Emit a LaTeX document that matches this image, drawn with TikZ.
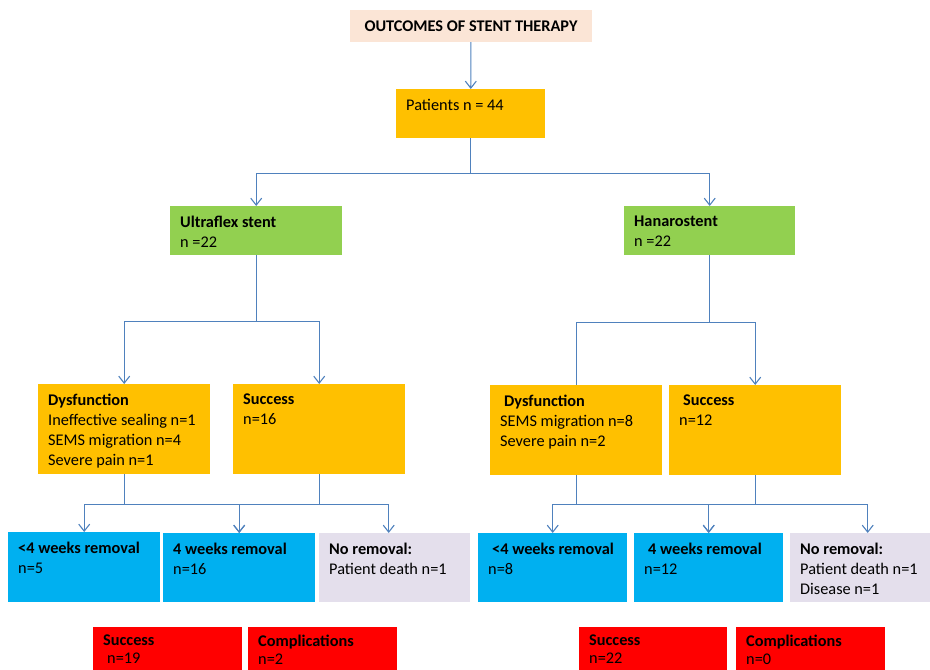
\documentclass[tikz,border=0pt]{standalone}
\usepackage{fontspec}
\setmainfont{Carlito}
\usetikzlibrary{arrows.meta}
\usepackage{xcolor}
\definecolor{peach}{HTML}{FBE5D6}
\definecolor{amber}{HTML}{FFC000}
\definecolor{leaf}{HTML}{92D050}
\definecolor{sky}{HTML}{00B0F0}
\definecolor{lilac}{HTML}{E4DFEC}
\definecolor{alarm}{HTML}{FF0000}
\definecolor{linkblue}{HTML}{4F81BD}
\newcommand{\bodyfont}{\fontsize{16.3}{20}\selectfont}
\newcommand{\boxtext}[3]{\parbox[t][#2][t]{#1}{\raggedright #3}}
\tikzstyle{heading} = [rectangle, 
minimum width=242pt, 
minimum height=32pt, 
inner sep=0pt, 
text centered, 
fill=peach, 
font=\bodyfont\bfseries]
\tikzstyle{stage} = [rectangle, 
anchor=north west, 
inner xsep=10pt, 
inner ysep=10pt, 
font=\bodyfont]
\tikzstyle{count} = [stage, fill=amber]
\tikzstyle{stent} = [stage, fill=leaf]
\tikzstyle{removal} = [stage, fill=sky]
\tikzstyle{noremoval} = [stage, fill=lilac]
\tikzstyle{result} = [stage, fill=alarm, inner ysep=8pt, font=\fontsize{16.3}{18}\selectfont]
\tikzstyle{link} = [draw=linkblue, line width=1.1pt]
\tikzstyle{arrow} = [link, -{Straight Barb[length=7pt,width=11pt]}]

\begin{document}
\begin{tikzpicture}[x=1pt, y=-1pt]
	\useasboundingbox (0,0) rectangle (930,670);
	
	\node (title) [heading] at (471,26) {OUTCOMES OF STENT THERAPY};
	\node (patients) [count] at (396,89) {\boxtext{129pt}{29pt}{Patients n = 44}};
	
	\node (ultra) [stent] at (170,206) {\boxtext{152pt}{29pt}{\textbf{Ultraflex stent}\\n =22}};
	\node (hanaro) [stent] at (624,206) {\boxtext{151pt}{29pt}{\textbf{Hanarostent}\\n =22}};
	
	% Ultraflex branch
	\node (udys) [count] at (38,384) {\boxtext{152pt}{70pt}{\textbf{Dysfunction}\\Ineffective sealing n=1\\SEMS migration n=4\\Severe pain n=1}};
	\node (usucc) [count] at (233,384) {\boxtext{152pt}{70pt}{\textbf{Success}\\n=16}};
	\node (ulate) [removal] at (8,532) {\boxtext{132pt}{50pt}{\textbf{<4 weeks removal}\\n=5}};
	\node (u4wk) [removal] at (163,533) {\boxtext{132pt}{49pt}{\textbf{4 weeks removal}\\n=16}};
	\node (unorem) [noremoval] at (319,533) {\boxtext{131pt}{49pt}{\textbf{No removal:}\\Patient death n=1}};
	\node (uok) [result] at (93,627) {\boxtext{129pt}{44pt}{\textbf{Success}\\\hspace*{4pt}n=19}};
	\node (ucomp) [result] at (248,627) {\boxtext{129pt}{44pt}{\textbf{Complications}\\n=2}};
	
	% Hanarostent branch
	\node (hdys) [count] at (490,385) {\boxtext{152pt}{70pt}{\hspace*{4pt}\textbf{Dysfunction}\\SEMS migration n=8\\Severe pain n=2}};
	\node (hsucc) [count] at (669,385) {\boxtext{152pt}{70pt}{\hspace*{4pt}\textbf{Success}\\n=12}};
	\node (hlate) [removal] at (478,533) {\boxtext{129pt}{49pt}{\hspace*{4pt}\textbf{<4 weeks removal}\\n=8}};
	\node (h4wk) [removal] at (634,533) {\boxtext{129pt}{49pt}{\hspace*{4pt}\textbf{4 weeks removal}\\n=12}};
	\node (hnorem) [noremoval] at (790,533) {\boxtext{125pt}{49pt}{\textbf{No removal:}\\Patient death n=1\\Disease n=1}};
	\node (hok) [result] at (579,627) {\boxtext{128pt}{44pt}{\textbf{Success}\\n=22}};
	\node (hcomp) [result] at (736,627) {\boxtext{129pt}{44pt}{\textbf{Complications}\\n=0}};
	
	\draw [arrow] (title) -- (patients);
	\draw [arrow] (patients.south) -- ++(0,35) -| (ultra.north);
	\draw [arrow] (patients.south) -- ++(0,35) -| (hanaro.north);
	
	\draw [arrow] (ultra.south) -- ++(0,66) -| (udys.north);
	\draw [arrow] (ultra.south) -- ++(0,66) -| (usucc.north);
	\draw [link] (hanaro.south) -- ++(0,67) -| (hdys.north);
	\draw [arrow] (hanaro.south) -- ++(0,67) -| (hsucc.north);
	
	\draw [arrow] (udys.south) -- ++(0,30) -| (ulate.north);
	\draw [arrow] (udys.south) -- ++(0,30) -| (u4wk.north);
	\draw [arrow] (usucc.south) -- ++(0,30) -| (u4wk.north);
	\draw [arrow] (usucc.south) -- ++(0,30) -| ([xshift=-6pt]unorem.north);
	
	\draw [arrow] (hdys.south) -- ++(0,29) -| (hlate.north);
	\draw [arrow] (hdys.south) -- ++(0,29) -| (h4wk.north);
	\draw [arrow] (hsucc.south) -- ++(0,29) -| (h4wk.north);
	\draw [arrow] (hsucc.south) -- ++(0,29) -| ([xshift=5pt]hnorem.north);
	
\end{tikzpicture}
\end{document}
